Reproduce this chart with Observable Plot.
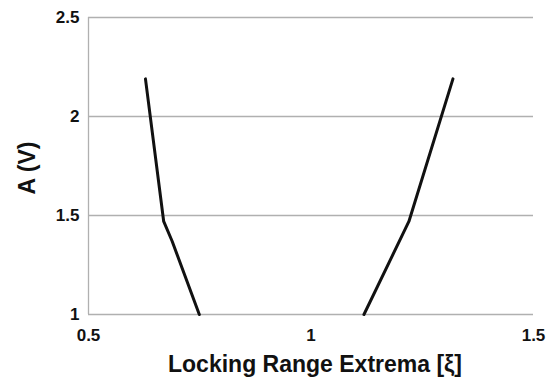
<!DOCTYPE html>
<html>
<head>
<meta charset="utf-8">
<script src="https://cdn.jsdelivr.net/npm/d3@7"></script>
<script src="https://cdn.jsdelivr.net/npm/@observablehq/plot@0.6"></script>
<style>
  html, body { margin: 0; padding: 0; background: #fff; }
  svg { display: block; }
</style>
</head>
<body>
<div id="chart"></div>
<script>
// Lower locking range extremum (left branch)
const lowerXi = [0.628, 0.669, 0.688, 0.749];
const lowerA  = [2.19, 1.47, 1.37, 1.0];
// Upper locking range extremum (right branch)
const upperXi = [1.119, 1.220, 1.319];
const upperA  = [1.0, 1.47, 2.19];

const xTicks = [0.5, 1, 1.5];
const yTicks = [1, 1.5, 2, 2.5];
const xLabel = "Locking Range Extrema [ξ]";
const yLabel = "A (V)";

const lower = lowerXi.map((x, i) => ({x, y: lowerA[i]}));
const upper = upperXi.map((x, i) => ({x, y: upperA[i]}));

const font = "'Liberation Sans', Arial, Helvetica, sans-serif";
const grid = "#b0b0b0";

const chart = Plot.plot({
  width: 552,
  height: 381,
  marginLeft: 88,
  marginRight: 19,
  marginTop: 17,
  marginBottom: 67,
  style: {fontFamily: font, background: "#fff", color: "#111", fontWeight: "bold"},
  x: {domain: [0.5, 1.5]},
  y: {domain: [1, 2.5]},
  marks: [
    Plot.ruleY(yTicks, {stroke: grid, strokeWidth: 1.3}),
    Plot.ruleX([0.5], {stroke: grid, strokeWidth: 1.3}),
    Plot.axisX({ticks: xTicks, tickFormat: d => String(d), tickSize: 0, tickPadding: 14, fontSize: 17, fontWeight: "bold", label: null}),
    Plot.axisY({ticks: yTicks, tickFormat: d => String(d), tickSize: 0, tickPadding: 9, fontSize: 17, fontWeight: "bold", label: null}),
    Plot.line(lower, {x: "x", y: "y", stroke: "#111", strokeWidth: 3, strokeLinejoin: "miter"}),
    Plot.line(upper, {x: "x", y: "y", stroke: "#111", strokeWidth: 3, strokeLinejoin: "miter"}),
    Plot.text([xLabel], {frameAnchor: "bottom", textAnchor: "middle", lineAnchor: "top", dy: 41, dx: 4, fontSize: 23, fontWeight: "bold", fill: "#111"}),
    Plot.text([yLabel], {frameAnchor: "left", textAnchor: "middle", rotate: -90, dx: -61, dy: 2, fontSize: 23, fontWeight: "bold", fill: "#111"})
  ]
});
document.getElementById("chart").append(chart);
</script>
</body>
</html>
